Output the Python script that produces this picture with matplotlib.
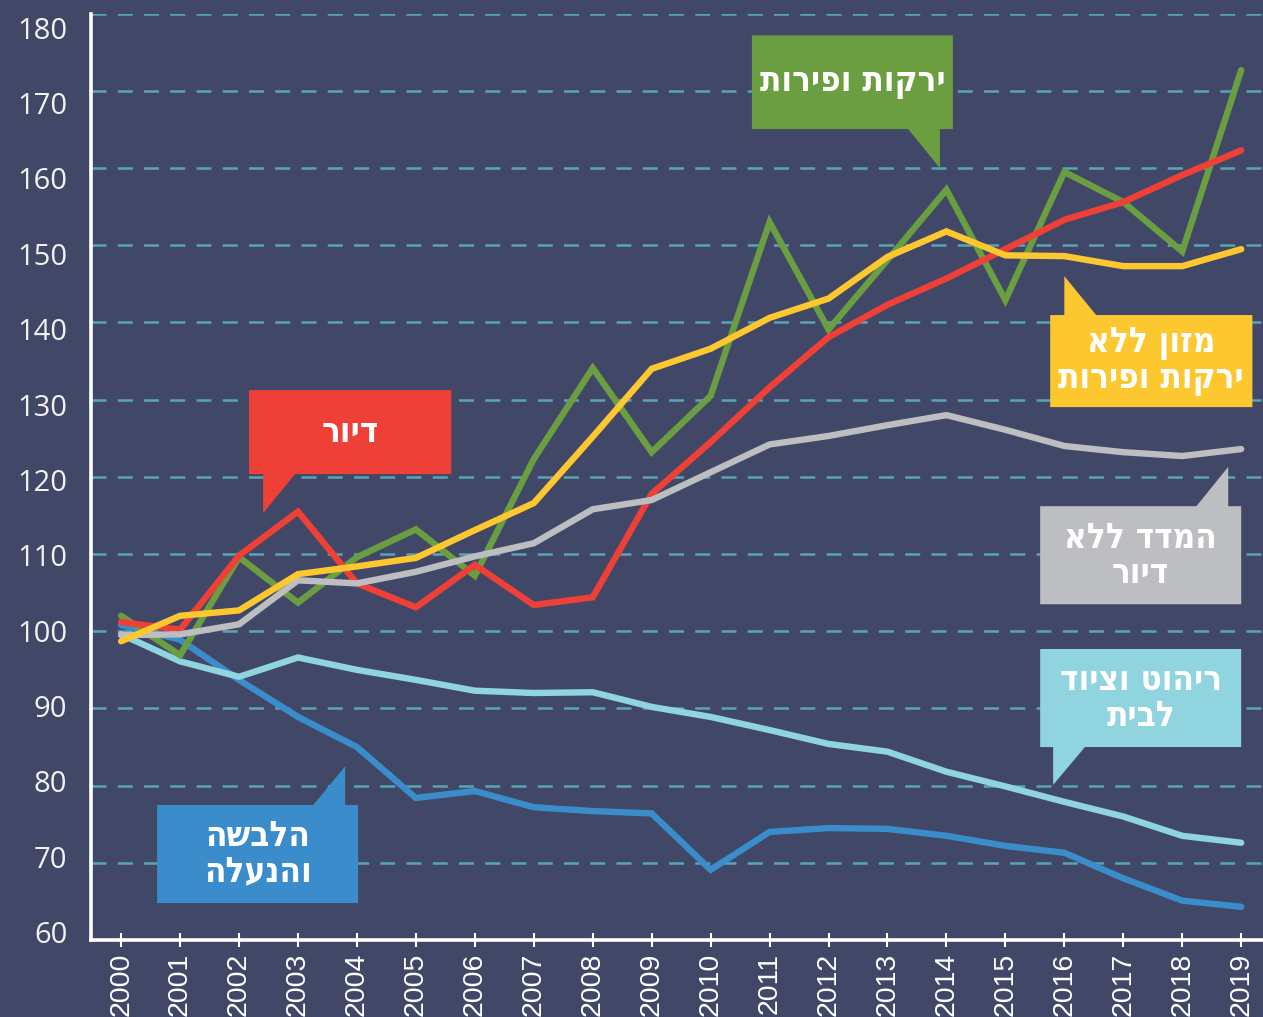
import matplotlib.pyplot as plt
from matplotlib.patches import Polygon

years = list(range(2000, 2020))

# price indices, 2000 = 100
veg_fruit = [102.0, 96.9, 109.6, 103.7, 109.6, 113.2, 107.2, 122.3, 134.1, 123.2,
             130.5, 153.0, 139.1, 148.1, 157.2, 142.9, 159.5, 155.6, 149.2, 172.7]
housing = [101.2, 100.2, 109.8, 115.5, 106.2, 103.1, 108.6, 103.4, 104.4, 117.8,
           124.5, 131.6, 138.1, 142.3, 145.7, 149.5, 153.3, 155.6, 159.1, 162.3]
food_no_veg = [98.7, 102.0, 102.7, 107.4, 108.4, 109.5, 113.1, 116.6, 125.2, 134.0,
               136.6, 140.6, 143.1, 148.5, 151.8, 148.7, 148.6, 147.3, 147.3, 149.5]
cpi_no_housing = [99.5, 99.6, 100.9, 106.6, 106.2, 107.7, 109.7, 111.4, 115.8, 117.0,
                  120.6, 124.2, 125.3, 126.7, 128.0, 126.1, 124.0, 123.2, 122.7, 123.6]
furniture = [99.6, 96.1, 94.1, 96.6, 95.0, 93.7, 92.3, 92.0, 92.1, 90.2,
             88.9, 87.2, 85.4, 84.4, 81.8, 79.9, 77.9, 76.0, 73.5, 72.6]
clothing = [100.8, 98.9, 93.7, 88.9, 85.0, 78.4, 79.3, 77.2, 76.7, 76.4,
            69.1, 74.0, 74.5, 74.4, 73.5, 72.2, 71.3, 68.0, 65.1, 64.3]

y_ticks = list(range(60, 190, 10))

BG = '#414867'
C_GREEN = '#6a9e40'
C_RED = '#ee4036'
C_YELLOW = '#fdc82f'
C_GRAY = '#bcbec1'
C_LBLUE = '#8fd4de'
C_BLUE = '#3a8dca'


def rtl(s):
    # matplotlib has no bidi support, so flip each line by hand
    return '\n'.join(line[::-1] for line in s.split('\n'))


# label text, colour, box (x0, x1, y_bottom, y_top), tail (side, base x0, base x1, tip x, tip y)
callouts = [
    ('ירקות ופירות', C_GREEN, (2010.70, 2014.11, 165.05, 177.2), ('bottom', 2013.35, 2013.89, 2013.89, 160.0)),
    ('דיור', C_RED, (2002.17, 2005.60, 120.36, 131.24), ('bottom', 2002.41, 2002.95, 2002.41, 115.3)),
    ('מזון ללא\nירקות ופירות', C_YELLOW, (2015.76, 2019.19, 129.04, 140.96), ('top', 2016.0, 2016.54, 2016.0, 146.0)),
    ('המדד ללא\nדיור', C_GRAY, (2015.59, 2019.0, 103.5, 116.2), ('top', 2018.24, 2018.78, 2018.78, 121.3)),
    ('ריהוט וציוד\nלבית', C_LBLUE, (2015.59, 2019.0, 85.0, 97.7), ('bottom', 2015.81, 2016.35, 2015.81, 80.1)),
    ('הלבשה\nוהנעלה', C_BLUE, (2000.61, 2004.02, 64.79, 77.49), ('top', 2003.26, 2003.80, 2003.80, 82.5)),
]

fig = plt.figure(figsize=(12.63, 10.17), dpi=100)
fig.patch.set_facecolor(BG)
ax = fig.add_axes([0.0721, 0.0757, 0.9279, 0.9108])
ax.set_facecolor(BG)

for yv in y_ticks[1:]:
    ax.axhline(yv, color='#5aa5b2', lw=1.8, dashes=(6, 4.5), zorder=1)

series = [
    (clothing, C_BLUE),
    (furniture, C_LBLUE),
    (veg_fruit, C_GREEN),
    (housing, C_RED),
    (cpi_no_housing, C_GRAY),
    (food_no_veg, C_YELLOW),
]
for vals, col in series:
    ax.plot(years, vals, color=col, lw=4.6, solid_capstyle='round',
            solid_joinstyle='miter', zorder=3)

for text, col, (x0, x1, yb, yt), (side, bx0, bx1, tx, ty) in callouts:
    if side == 'bottom':
        pts = [(x0, yt), (x1, yt), (x1, yb), (bx1, yb), (tx, ty), (bx0, yb), (x0, yb)]
    else:
        pts = [(x0, yb), (x1, yb), (x1, yt), (bx1, yt), (tx, ty), (bx0, yt), (x0, yt)]
    ax.add_patch(Polygon(pts, closed=True, facecolor=col, edgecolor='none', zorder=4))
    ax.text((x0 + x1) / 2, (yb + yt) / 2, rtl(text), color='white', fontsize=25,
            fontweight='bold', family=['DejaVu Sans'], fontstretch='condensed',
            ha='center', va='center', linespacing=1.05, zorder=5)

ax.set_xlim(1999.49, 2019.37)
ax.set_ylim(60, 180)
ax.set_xticks(years)
ax.set_xticklabels([str(y) for y in years], rotation=90, fontsize=20.5,
                   family=['Liberation Sans'], color='white')
ax.set_yticks(y_ticks)
ax.set_yticklabels([])
ax.tick_params(axis='y', length=0)
ax.tick_params(axis='x', direction='inout', length=10, width=1.5, color='white', pad=4)

# the printed value labels sit on a slightly tighter scale than the grid
lab = ax.twinx()
lab.set_ylim(58.94, 181.86)
lab.set_yticks(y_ticks)
lab.set_yticklabels([str(v) for v in y_ticks], fontsize=21, family=['Open Sans'],
                    color='#f2f2f2')
lab.yaxis.set_ticks_position('left')
lab.yaxis.set_label_position('left')
lab.tick_params(axis='y', length=0, pad=17)
for s in lab.spines.values():
    s.set_visible(False)

for side in ['top', 'right']:
    ax.spines[side].set_visible(False)
for side in ['left', 'bottom']:
    ax.spines[side].set_color('white')
    ax.spines[side].set_linewidth(2.6)
    ax.spines[side].set_zorder(6)

fig.savefig('out.png', dpi=100, facecolor=BG)
